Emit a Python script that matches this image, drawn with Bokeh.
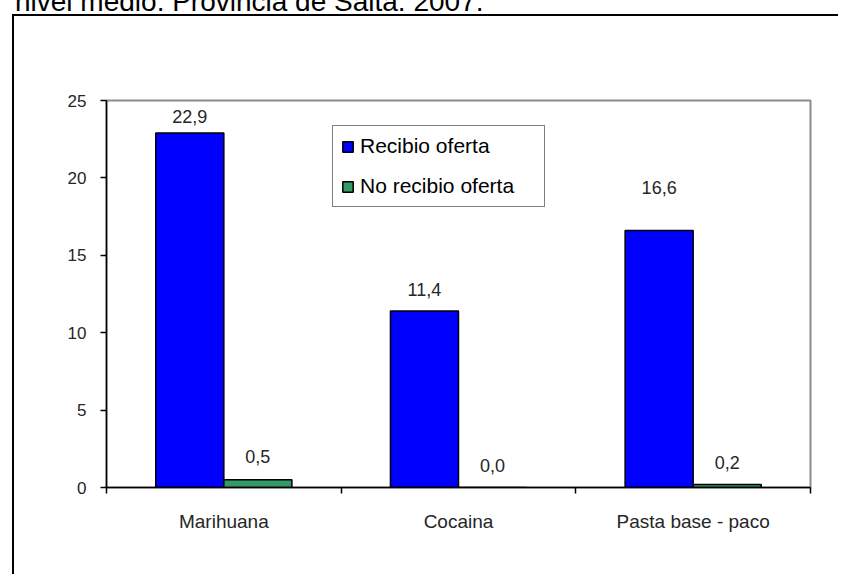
from bokeh.plotting import figure
from bokeh.layouts import column
from bokeh.models import (Range1d, LinearAxis, FixedTicker, Div,
                          ColumnDataSource, Legend, LegendItem)
from bokeh.transform import dodge
from bokeh.core.properties import value
from bokeh.embed import file_html
from bokeh.resources import INLINE

# ---- data ----
title_text = "nivel medio. Provincia de Salta. 2007."
categories = ["Marihuana", "Cocaina", "Pasta base - paco"]
series_names = ["Recibio oferta", "No recibio oferta"]
recibio = [22.9, 11.4, 16.6]
no_recibio = [0.5, 0.0, 0.2]
y_ticks = [0, 5, 10, 15, 20, 25]

# ---- styles ----
FONT = "Liberation Sans"
BLUE = "#0000FF"
GREEN = "#339966"
rec_label_lift = [17, 22, 43]   # px above bar top (labels were hand-placed)
no_label_lift = [23, 22, 22]


def fmt(v):
    return f"{v:.1f}".replace(".", ",")


n = len(categories)
centers = [i + 0.5 for i in range(n)]          # category slot centres
edges = list(range(n + 1))                      # category slot boundaries

src = ColumnDataSource(dict(
    x=centers,
    rec=recibio,
    no=no_recibio,
    rec_lbl=[fmt(v) for v in recibio],
    no_lbl=[fmt(v) for v in no_recibio],
    rec_off=[-v for v in rec_label_lift],
    no_off=[-v for v in no_label_lift],
))

# caption line above the chart box (cut off at the top, as in the source)
title_div = Div(
    text=('<div style="margin-top:-21px; position:relative; top:-6px; padding-left:10px; '
          'white-space:nowrap; font-family:\'Liberation Sans\'; font-size:28px; '
          'line-height:28px; color:black;">' + title_text + '</div>'),
    width=842, height=14)

fig = figure(width=826, height=560,
             x_range=Range1d(0, n), y_range=Range1d(0, 25),
             output_backend="svg", toolbar_location=None,
             x_axis_location=None, y_axis_location=None,
             min_border_left=92, min_border_right=30,
             min_border_top=84, min_border_bottom=89,
             background_fill_color="white", border_fill_color="white",
             outline_line_color="#8c8c8c", outline_line_width=2,
             styles={"margin-left": "12px", "margin-top": "-10px",
                     "border-left": "2px solid black",
                     "border-top": "2px solid black"})
fig.grid.visible = False

# y axis
yaxis = LinearAxis(ticker=FixedTicker(ticks=y_ticks),
                   major_tick_out=6, major_tick_in=0,
                   minor_tick_out=0, minor_tick_in=0,
                   axis_line_color="black", axis_line_width=1.5,
                   major_tick_line_color="black", major_tick_line_width=1.5,
                   major_label_text_font=FONT, major_label_text_font_size="17px",
                   major_label_text_color="#262626", major_label_standoff=14)
fig.add_layout(yaxis, "left")

# x axis: category labels at slot centres, tick marks at slot boundaries
xaxis = LinearAxis(ticker=FixedTicker(ticks=centers, minor_ticks=edges),
                   major_label_overrides={c: lab for c, lab in zip(centers, categories)},
                   major_tick_out=0, major_tick_in=0,
                   minor_tick_out=6, minor_tick_in=0,
                   minor_tick_line_color="black", minor_tick_line_width=1.5,
                   axis_line_color="black", axis_line_width=1.5,
                   major_label_standoff=17,
                   major_label_text_font=FONT, major_label_text_font_size="19px",
                   major_label_text_color="#262626")
fig.add_layout(xaxis, "below")

# bars
r1 = fig.vbar(x=dodge("x", -0.145), top="rec", width=0.29, source=src,
              fill_color=BLUE, line_color="black", line_width=1.5)
r2 = fig.vbar(x=dodge("x", 0.145), top="no", width=0.29, source=src,
              fill_color=GREEN, line_color="black", line_width=1.5)

# value labels
fig.text(x=dodge("x", -0.145), y="rec", text="rec_lbl", y_offset="rec_off",
         source=src, text_align="center", text_baseline="middle",
         text_font=value(FONT), text_font_size="18px", text_color="#262626")
fig.text(x=dodge("x", 0.145), y="no", text="no_lbl", y_offset="no_off",
         source=src, text_align="center", text_baseline="middle",
         text_font=value(FONT), text_font_size="18px", text_color="#262626")

legend = Legend(items=[LegendItem(label=series_names[0], renderers=[r1]),
                       LegendItem(label=series_names[1], renderers=[r2])],
                location=(226, 280), orientation="vertical",
                border_line_color="black", border_line_width=1,
                background_fill_color="white", background_fill_alpha=1,
                padding=8, spacing=16, margin=0,
                glyph_width=13, glyph_height=13, label_standoff=6,
                label_width=176, label_height=23,
                label_text_font=FONT, label_text_font_size="21px",
                label_text_color="black", label_text_baseline="middle")
fig.add_layout(legend)

p = column(title_div, fig, spacing=0)

open("out.html", "w").write(file_html(p, INLINE))
